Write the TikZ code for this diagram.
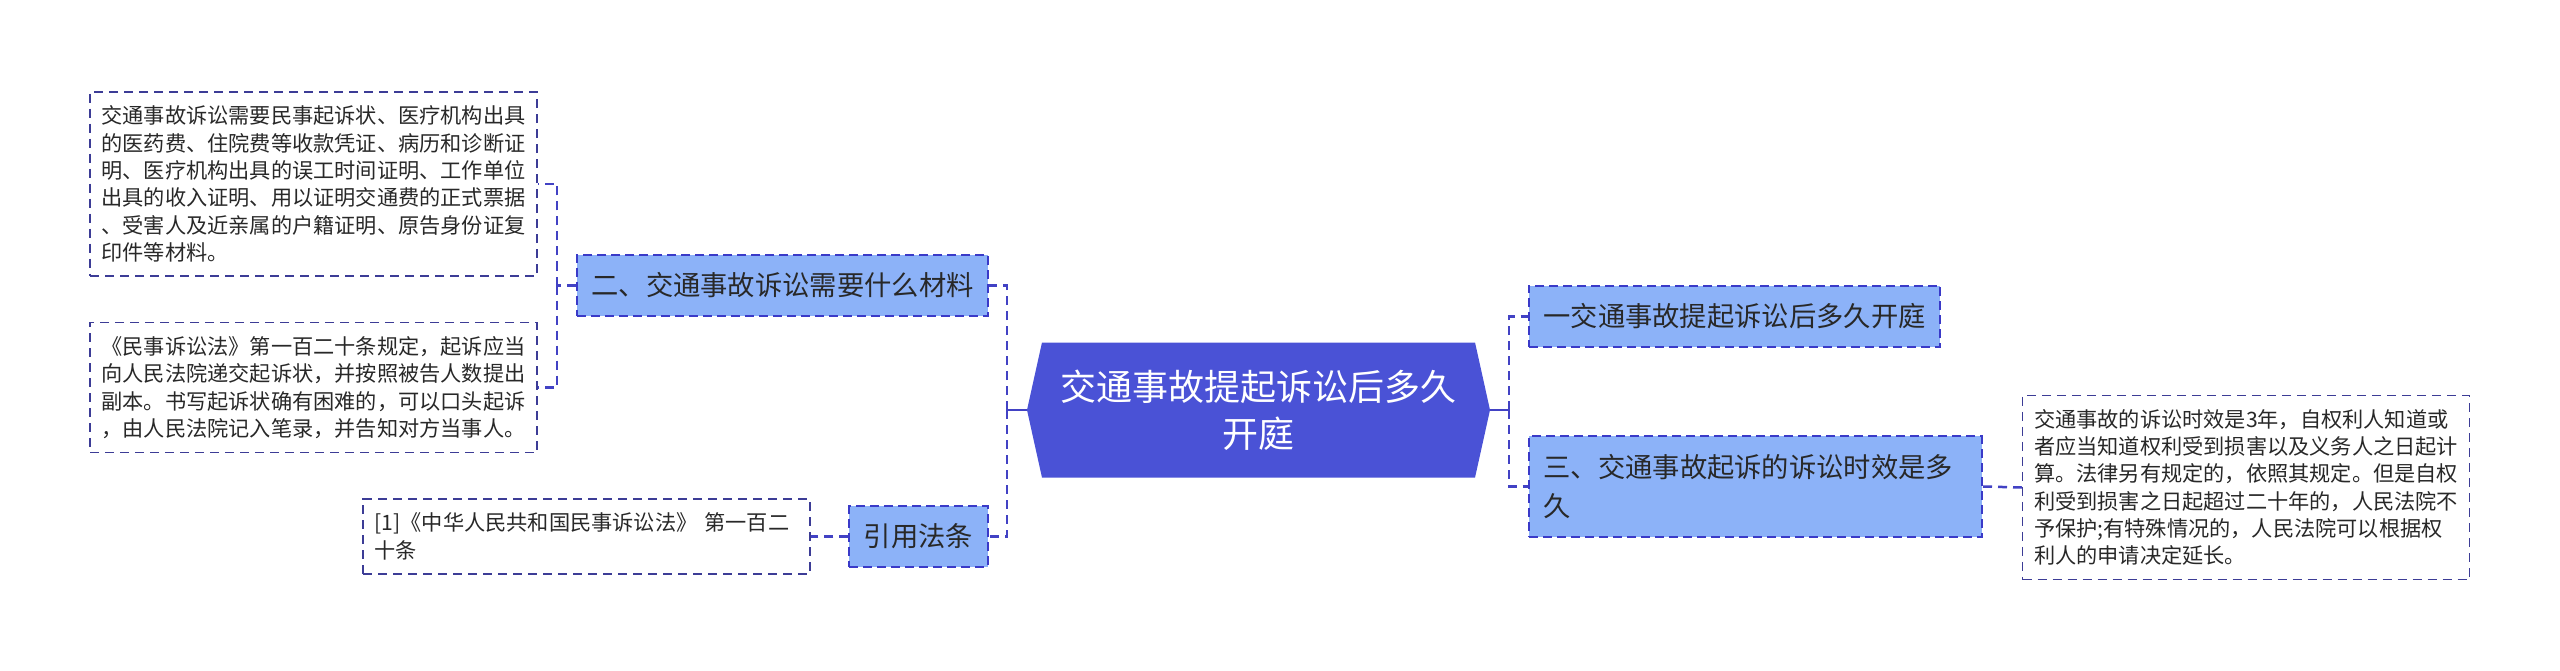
\documentclass[tikz,border=0pt]{standalone}
\usepackage{fontspec}
\setmainfont{Noto Sans CJK SC}
\usepackage{tikz}
\usetikzlibrary{shapes.symbols}
\usepackage{xcolor}

\definecolor{rootblue}{RGB}{74,82,214}
\definecolor{branchfill}{RGB}{140,178,248}
\definecolor{branchline}{RGB}{58,58,200}
\definecolor{leafline}{RGB}{60,60,150}
\definecolor{linkblue}{RGB}{66,66,196}
\definecolor{txt}{RGB}{40,40,40}

\newcommand{\leaffont}{\fontsize{21.2}{27.3}\selectfont}
\newcommand{\branchfont}{\fontsize{27.3}{39}\selectfont}
\newcommand{\rootfont}{\fontsize{36}{47}\selectfont}

\tikzset{
    leaf/.style={draw=leafline, line width=1.5pt, dash pattern=on 9pt off 6pt,
        text=txt, font=\leaffont, align=left, text width=424pt,
        inner xsep=11.5pt, inner ysep=14pt},
    branch/.style={draw=branchline, fill=branchfill, line width=2pt,
        dash pattern=on 9pt off 5pt, text=txt, font=\branchfont, align=left,
        inner xsep=14.5pt, inner ysep=17.8pt},
    rootnode/.style={signal, signal to=west and east, signal pointer angle=155,
        fill=rootblue, text=white, font=\rootfont, align=center,
        minimum width=463pt, minimum height=135pt, inner sep=0pt},
    link/.style={draw=linkblue, line width=2.5pt, dash pattern=on 9pt off 6pt},
    stub/.style={draw=linkblue, line width=2.5pt}
}

\begin{document}
\begin{tikzpicture}[x=1pt, y=-1pt]

    % page
    \useasboundingbox (0,0) rectangle (2560,671);

    % centre
    \node[rootnode] (root) at (1258.5,410) {交通事故提起诉讼后多久\\开庭};

    % left side
    \node[branch] (mat) at (782.5,285.5) {二、交通事故诉讼需要什么材料};
    \node[branch] (law) at (918.5,536.5) {引用法条};
    \node[leaf] (matA) at (313.5,184)
    {交通事故诉讼需要民事起诉状、医疗机构出具\\的医药费、住院费等收款凭证、病历和诊断证\\明、医疗机构出具的误工时间证明、工作单位\\出具的收入证明、用以证明交通费的正式票据\\、受害人及近亲属的户籍证明、原告身份证复\\印件等材料。};
    \node[leaf] (matB) at (313.5,387.5)
    {《民事诉讼法》第一百二十条规定，起诉应当\\向人民法院递交起诉状，并按照被告人数提出\\副本。书写起诉状确有困难的，可以口头起诉\\，由人民法院记入笔录，并告知对方当事人。};
    \node[leaf] (lawA) at (586.5,536.5)
    {[1]《中华人民共和国民事诉讼法》 第一百二\\十条};

    % right side
    \node[branch] (when) at (1734.5,316.5) {一交通事故提起诉讼后多久开庭};
    \node[branch, text width=424pt] (limit) at (1755.5,486.5)
    {三、交通事故起诉的诉讼时效是多\\久};
    \node[leaf] (limitA) at (2246,487.5)
    {交通事故的诉讼时效是3年，自权利人知道或\\者应当知道权利受到损害以及义务人之日起计\\算。法律另有规定的，依照其规定。但是自权\\利受到损害之日起超过二十年的，人民法院不\\予保护;有特殊情况的，人民法院可以根据权\\利人的申请决定延长。};

    % joints
    \coordinate (lj) at (1007,410);
    \coordinate (rj) at (1509,410);
    \coordinate (mj) at (557,285.5);

    % connectors
    \draw[stub] (root.west) -- (lj);
    \draw[stub] (root.east) -- (rj);
    \draw[link] (lj) |- (mat.east);
    \draw[link] (lj) |- (law.east);
    \draw[link] (rj) |- (when.west);
    \draw[link] (rj) |- (limit.west);
    \draw[link] (mat.west) -- (mj);
    \draw[link] (mj) |- (matA.east);
    \draw[link] (mj) |- (matB.east);
    \draw[link] (law.west) -- (lawA.east);
    \draw[link] (limit.east) -- (limitA.west);
\end{tikzpicture}
\end{document}
